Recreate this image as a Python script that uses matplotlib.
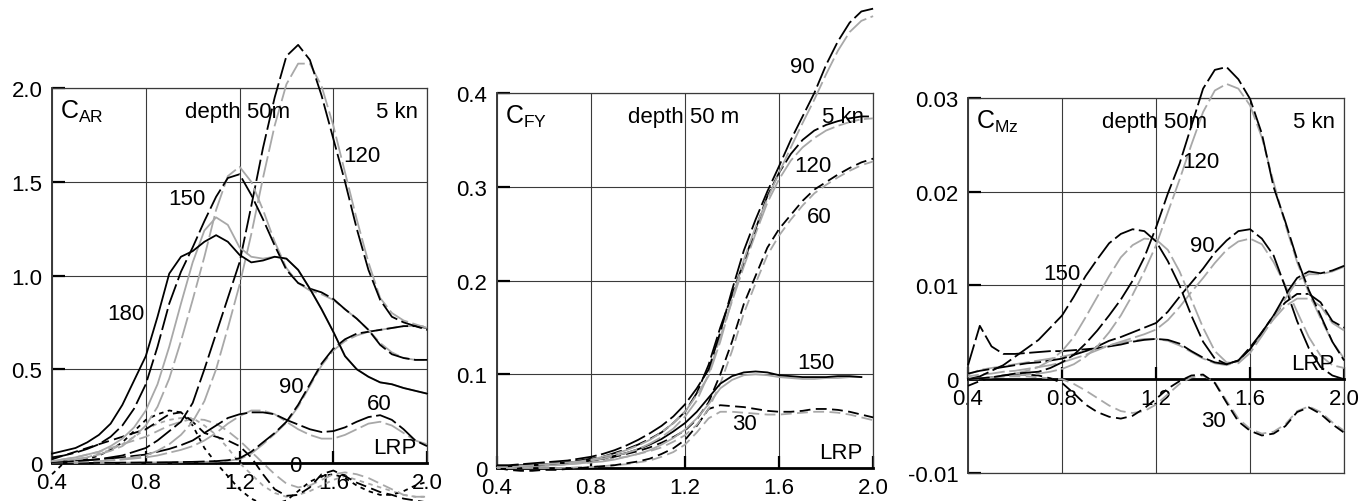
import numpy as np
import matplotlib
matplotlib.use("Agg")
import matplotlib.pyplot as plt

plt.rcParams['font.family'] = ['Liberation Sans', 'DejaVu Sans']
plt.rcParams['mathtext.fontset'] = 'custom'
plt.rcParams['mathtext.rm'] = 'Liberation Sans'

# frequency axis (common sampling for every curve)
X = [0.40, 0.45, 0.50, 0.55, 0.60, 0.65, 0.70, 0.75, 0.80, 0.85, 0.90, 0.95,
     1.00, 1.05, 1.10, 1.15, 1.20, 1.25, 1.30, 1.35, 1.40, 1.45, 1.50, 1.55,
     1.60, 1.65, 1.70, 1.75, 1.80, 1.85, 1.90, 1.95, 2.00]
x_ticks = [0.4, 0.8, 1.2, 1.6, 2.0]
x_ticklabels = ["0.4", "0.8", "1.2", "1.6", "2.0"]
nan = np.nan

# ---------------- C_AR ----------------
ar_180_b = [0.05, 0.065, 0.08, 0.11, 0.15, 0.21, 0.31, 0.44, 0.57, 0.78, 1.01, 1.10,
            1.13, 1.18, 1.215, 1.18, 1.11, 1.07, 1.08, 1.10, 1.09, 1.03, 0.93, 0.82,
            0.70, 0.57, 0.50, 0.46, 0.43, 0.42, 0.40, 0.385, 0.37]
ar_180_g = [0.01, 0.02, 0.03, 0.045, 0.06, 0.09, 0.13, 0.19, 0.28, 0.42, 0.62, 0.85,
            1.07, 1.24, 1.31, 1.27, 1.15, 1.10, 1.09, 1.10, 1.09, 1.03, 0.93, 0.82,
            0.70, 0.57, 0.50, 0.46, 0.43, 0.42, 0.40, 0.385, 0.37]
ar_150_b = [0.03, 0.04, 0.055, 0.075, 0.10, 0.14, 0.20, 0.29, 0.42, 0.62, 0.85, 1.02,
            1.15, 1.29, 1.42, 1.52, 1.54, 1.43, 1.30, 1.16, 1.03, 0.96, 0.93, 0.91,
            0.875, 0.82, 0.77, 0.71, 0.63, 0.58, 0.56, 0.55, 0.55]
ar_150_g = [0.01, 0.015, 0.02, 0.03, 0.045, 0.065, 0.09, 0.14, 0.20, 0.30, 0.45, 0.65,
            0.87, 1.10, 1.35, 1.53, 1.58, 1.50, 1.35, 1.18, 1.04, 0.96, 0.92, 0.90,
            0.87, 0.82, 0.77, 0.71, 0.64, 0.59, 0.56, 0.55, 0.55]
ar_120_b = [0.005, 0.007, 0.01, 0.015, 0.02, 0.03, 0.04, 0.06, 0.08, 0.12, 0.17, 0.22,
            0.32, 0.50, 0.69, 0.88, 1.07, 1.37, 1.68, 1.95, 2.17, 2.23, 2.15, 1.96,
            1.73, 1.50, 1.25, 1.03, 0.87, 0.78, 0.75, 0.73, 0.71]
ar_120_g = [0.003, 0.004, 0.006, 0.008, 0.01, 0.015, 0.022, 0.03, 0.04, 0.065, 0.10, 0.15,
            0.22, 0.33, 0.50, 0.72, 0.95, 1.22, 1.52, 1.80, 2.02, 2.13, 2.13, 2.01,
            1.80, 1.55, 1.30, 1.07, 0.88, 0.80, 0.76, 0.74, 0.72]
ar_90_b = [0.0, 0.0, 0.0, 0.0, 0.001, 0.001, 0.002, 0.002, 0.003, 0.003, 0.004, 0.005,
           0.006, 0.008, 0.010, 0.015, 0.025, 0.06, 0.11, 0.16, 0.22, 0.31, 0.42, 0.53,
           0.61, 0.66, 0.69, 0.70, 0.71, 0.72, 0.73, 0.73, 0.72]
ar_90_g = [0.0, 0.0, 0.0, 0.0, 0.0, 0.001, 0.001, 0.002, 0.002, 0.003, 0.003, 0.004,
           0.005, 0.006, 0.008, 0.012, 0.02, 0.05, 0.10, 0.155, 0.215, 0.30, 0.41, 0.52,
           0.60, 0.65, 0.68, 0.70, 0.71, 0.72, 0.73, 0.73, 0.73]
ar_60_b = [0.005, 0.007, 0.01, 0.015, 0.02, 0.025, 0.03, 0.038, 0.045, 0.06, 0.075, 0.095,
           0.12, 0.16, 0.20, 0.24, 0.26, 0.27, 0.27, 0.26, 0.23, 0.205, 0.18, 0.165,
           0.17, 0.19, 0.22, 0.245, 0.255, 0.23, 0.18, 0.12, 0.09]
ar_60_g = [0.002, 0.003, 0.005, 0.007, 0.01, 0.014, 0.018, 0.024, 0.03, 0.04, 0.055, 0.07,
           0.09, 0.12, 0.16, 0.21, 0.25, 0.28, 0.28, 0.26, 0.22, 0.18, 0.15, 0.13,
           0.13, 0.15, 0.18, 0.21, 0.22, 0.20, 0.16, 0.12, 0.10]
ar_30_b = [0.02, 0.04, 0.06, 0.08, 0.10, 0.12, 0.14, 0.16, 0.18, 0.22, 0.26, 0.27,
           0.22, 0.16, 0.14, 0.12, 0.09, 0.03, -0.06, -0.14, -0.175, -0.17, -0.13, -0.06,
           -0.04, -0.07, -0.105, -0.13, -0.155, -0.17, -0.19, -0.20, -0.21]
ar_30_g = [0.01, 0.02, 0.03, 0.045, 0.06, 0.08, 0.10, 0.12, 0.14, 0.17, 0.20, 0.22,
           0.235, 0.23, 0.21, 0.17, 0.12, 0.06, 0.0, -0.06, -0.11, -0.13, -0.12, -0.09,
           -0.06, -0.05, -0.06, -0.08, -0.11, -0.14, -0.17, -0.18, -0.18]
ar_0_b = [-0.06, 0.0, 0.01, 0.02, 0.04, 0.07, 0.11, 0.17, 0.23, 0.26, 0.28, 0.27,
          0.20, 0.08, 0.0, -0.07, -0.14, -0.19, -0.22, -0.22, -0.20, -0.15, -0.10, -0.07,
          -0.06, -0.08, -0.12, -0.15, -0.17, -0.17, -0.15, -0.12, -0.10]
ar_0_g = [0.0, 0.01, 0.02, 0.03, 0.05, 0.07, 0.10, 0.14, 0.18, 0.21, 0.23, 0.24,
          0.24, 0.20, 0.15, 0.08, 0.0, -0.06, -0.12, -0.16, -0.18, -0.17, -0.15, -0.12,
          -0.09, -0.07, -0.09, -0.11, -0.13, -0.15, -0.17, -0.18, -0.18]

# ---------------- C_FY ----------------
fy_90_b = [0.003, 0.003, 0.004, 0.005, 0.006, 0.007, 0.008, 0.010, 0.012, 0.015, 0.019, 0.024,
           0.030, 0.037, 0.045, 0.055, 0.068, 0.085, 0.105, 0.145, 0.19, 0.232, 0.265, 0.295,
           0.322, 0.35, 0.375, 0.40, 0.43, 0.455, 0.475, 0.487, 0.49]
fy_90_g = [0.001, 0.001, 0.002, 0.003, 0.004, 0.005, 0.006, 0.007, 0.009, 0.012, 0.015, 0.019,
           0.024, 0.030, 0.038, 0.048, 0.060, 0.078, 0.098, 0.135, 0.18, 0.222, 0.257, 0.287,
           0.315, 0.342, 0.368, 0.393, 0.42, 0.445, 0.465, 0.477, 0.482]
fy_120_b = [0.002, 0.002, 0.003, 0.003, 0.004, 0.005, 0.006, 0.008, 0.010, 0.012, 0.016, 0.020,
            0.025, 0.031, 0.038, 0.048, 0.060, 0.080, 0.11, 0.15, 0.185, 0.22, 0.255, 0.29,
            0.315, 0.335, 0.35, 0.36, 0.366, 0.37, 0.373, 0.375, 0.375]
fy_120_g = [0.001, 0.001, 0.002, 0.002, 0.003, 0.004, 0.005, 0.006, 0.008, 0.010, 0.013, 0.016,
            0.020, 0.026, 0.033, 0.042, 0.055, 0.072, 0.10, 0.14, 0.178, 0.215, 0.25, 0.283,
            0.308, 0.328, 0.342, 0.352, 0.36, 0.365, 0.369, 0.372, 0.373]
fy_60_b = [0.001, 0.001, 0.002, 0.002, 0.003, 0.004, 0.005, 0.006, 0.008, 0.010, 0.012, 0.015,
           0.018, 0.022, 0.027, 0.033, 0.040, 0.052, 0.07, 0.10, 0.135, 0.175, 0.205, 0.235,
           0.255, 0.27, 0.285, 0.297, 0.305, 0.313, 0.32, 0.326, 0.33]
fy_60_g = [0.0, 0.0, 0.001, 0.001, 0.002, 0.003, 0.004, 0.005, 0.006, 0.008, 0.010, 0.012,
           0.015, 0.018, 0.022, 0.028, 0.035, 0.046, 0.063, 0.09, 0.125, 0.165, 0.197, 0.227,
           0.248, 0.265, 0.28, 0.293, 0.302, 0.31, 0.317, 0.323, 0.327]
fy_150_b = [0.002, 0.002, 0.003, 0.003, 0.004, 0.005, 0.006, 0.007, 0.008, 0.010, 0.013, 0.016,
            0.020, 0.025, 0.031, 0.039, 0.048, 0.06, 0.075, 0.09, 0.098, 0.102, 0.103, 0.102,
            0.099, 0.098, 0.097, 0.097, 0.097, 0.098, 0.098, 0.097, nan]
fy_150_g = [0.001, 0.001, 0.002, 0.002, 0.003, 0.003, 0.004, 0.005, 0.006, 0.007, 0.009, 0.012,
            0.015, 0.019, 0.025, 0.032, 0.041, 0.053, 0.068, 0.085, 0.094, 0.099, 0.100, 0.099,
            0.097, 0.096, 0.095, 0.095, 0.096, 0.096, 0.097, 0.097, nan]
fy_30_b = [0.0, -0.002, -0.003, -0.003, -0.002, -0.002, -0.001, 0.0, 0.001, 0.002, 0.003, 0.005,
           0.007, 0.010, 0.015, 0.021, 0.030, 0.045, 0.063, 0.067, 0.066, 0.065, 0.063, 0.061,
           0.060, 0.060, 0.061, 0.063, 0.063, 0.062, 0.060, 0.057, 0.054]
fy_30_g = [0.0, 0.0, 0.0, 0.0, 0.0, 0.0, 0.0, 0.001, 0.001, 0.002, 0.003, 0.004,
           0.006, 0.008, 0.012, 0.017, 0.025, 0.038, 0.053, 0.06, 0.06, 0.059, 0.058, 0.057,
           0.057, 0.058, 0.059, 0.06, 0.06, 0.059, 0.057, 0.054, 0.051]

# ---------------- C_Mz ----------------
mz_120_b = [0.0, 0.0001, 0.0002, 0.0004, 0.0006, 0.0007, 0.0008, 0.0012, 0.0018, 0.0026, 0.0038, 0.0052,
            0.0068, 0.0085, 0.0105, 0.013, 0.0162, 0.0198, 0.023, 0.027, 0.031, 0.0330, 0.0333, 0.032,
            0.0299, 0.0262, 0.0205, 0.0168, 0.0128, 0.0095, 0.0068, 0.0040, 0.0020]
mz_120_g = [0.0, 0.0001, 0.0002, 0.0003, 0.0004, 0.0005, 0.0006, 0.0008, 0.0011, 0.0016, 0.0024, 0.0035,
            0.0050, 0.0068, 0.0090, 0.0115, 0.0143, 0.0178, 0.0213, 0.0250, 0.0285, 0.0308, 0.0315, 0.0310,
            0.0292, 0.0258, 0.0210, 0.0165, 0.0125, 0.0092, 0.0065, 0.0040, 0.0022]
mz_150_b = [0.0, 0.0003, 0.0009, 0.0015, 0.0024, 0.0033, 0.0042, 0.0055, 0.0068, 0.0088, 0.011, 0.0128,
            0.0145, 0.0155, 0.016, 0.0158, 0.0147, 0.0126, 0.0100, 0.0068, 0.0040, 0.0022, 0.0016, 0.0020,
            0.0032, 0.0050, 0.0068, 0.0090, 0.0108, 0.0115, 0.0113, 0.0116, 0.0121]
mz_150_g = [0.0, 0.0001, 0.0002, 0.0004, 0.0006, 0.0009, 0.0013, 0.0020, 0.0030, 0.0045, 0.0066, 0.0088,
            0.011, 0.013, 0.0143, 0.0150, 0.0149, 0.0138, 0.0115, 0.0085, 0.0055, 0.0030, 0.0018, 0.0017,
            0.0028, 0.0046, 0.0065, 0.0086, 0.0105, 0.0112, 0.0112, 0.0115, 0.0120]
mz_90_b = [0.0006, 0.0009, 0.0011, 0.0013, 0.0015, 0.0017, 0.0018, 0.0020, 0.0022, 0.0026, 0.0030, 0.0035,
           0.0041, 0.0045, 0.005, 0.0055, 0.006, 0.0072, 0.0088, 0.0103, 0.0118, 0.0135, 0.0148, 0.0158,
           0.016, 0.0150, 0.0132, 0.0098, 0.0062, 0.0033, 0.0013, 0.0004, 0.0]
mz_90_g = [0.0003, 0.0005, 0.0006, 0.0008, 0.0009, 0.0011, 0.0013, 0.0015, 0.0018, 0.0022, 0.0026, 0.0031,
           0.0036, 0.0040, 0.0044, 0.0048, 0.0053, 0.0063, 0.0077, 0.0093, 0.0108, 0.0124, 0.0138, 0.0147,
           0.0150, 0.0144, 0.0125, 0.0100, 0.0072, 0.0045, 0.0025, 0.0015, 0.0012]
mz_60_b = [0.0015, 0.0057, 0.0035, 0.0027, 0.0027, 0.0028, 0.0029, 0.003, 0.003, 0.0031, 0.0032, 0.0033,
           0.0035, 0.0037, 0.004, 0.0042, 0.0043, 0.0042, 0.0038, 0.003, 0.0023, 0.0018, 0.0016, 0.002,
           0.0034, 0.005, 0.0068, 0.0082, 0.0091, 0.0091, 0.0082, 0.0062, 0.0055]
mz_60_g = [0.0005, 0.001, 0.0012, 0.0014, 0.0016, 0.0018, 0.002, 0.0022, 0.0024, 0.0027, 0.003, 0.0033,
           0.0036, 0.0039, 0.0041, 0.0043, 0.0043, 0.0041, 0.0036, 0.0029, 0.0022, 0.0017, 0.0015, 0.0019,
           0.0032, 0.0048, 0.0064, 0.0078, 0.0086, 0.0086, 0.0078, 0.006, 0.0052]
mz_30_b = [-0.0007, -0.0002, 0.0002, 0.0004, 0.0005, 0.0005, 0.0004, 0.0001, -0.0004, -0.0015, -0.0027, -0.0035,
           -0.004, -0.0042, -0.0039, -0.0031, -0.0021, -0.0010, -0.0002, 0.0004, 0.0005, -0.0004, -0.0025, -0.0045,
           -0.0055, -0.0060, -0.0058, -0.0050, -0.0035, -0.0030, -0.0037, -0.0048, -0.0057]
mz_30_g = [0.0, 0.0001, 0.0002, 0.0003, 0.0003, 0.0003, 0.0002, 0.0001, 0.0, -0.0005, -0.0012, -0.0020,
           -0.0028, -0.0034, -0.0036, -0.0034, -0.0027, -0.0016, -0.0005, 0.0002, 0.0004, -0.0003, -0.0023, -0.0042,
           -0.0053, -0.0058, -0.0056, -0.0048, -0.0034, -0.0029, -0.0035, -0.0046, -0.0055]

BLACK = "#000000"
GRAY = "#a8a8a8"
SOLID = "-"
LONG = (0, (12, 2.5))
LONG_G = (6, (12, 2.5))
MED = (0, (6, 3))
MED_G = (4, (6, 3))
SHORT = (0, (2.5, 2.5))

panels = [
    dict(pos=[0.038, 0.0757, 0.2737, 0.747], ylim=(0, 2.0),
         yticks=[0, 0.5, 1.0, 1.5, 2.0], ylabels=["0", "0.5", "1.0", "1.5", "2.0"],
         name=r"$\mathregular{C_{AR}}$", depth="depth 50m",
         curves=[(ar_0_g, GRAY, SHORT), (ar_0_b, BLACK, SHORT),
                 (ar_30_g, GRAY, MED_G), (ar_30_b, BLACK, MED),
                 (ar_60_g, GRAY, LONG_G), (ar_60_b, BLACK, LONG),
                 (ar_90_g, GRAY, LONG_G), (ar_90_b, BLACK, LONG),
                 (ar_120_g, GRAY, LONG_G), (ar_120_b, BLACK, LONG),
                 (ar_150_g, GRAY, LONG_G), (ar_150_b, BLACK, LONG),
                 (ar_180_g, GRAY, SOLID), (ar_180_b, BLACK, SOLID)],
         labels=[("180", 0.715, 0.795), ("150", 0.975, 1.41), ("120", 1.72, 1.64),
                 ("90", 1.42, 0.41), ("60", 1.795, 0.315), ("0", 1.437, -0.014)],
         lrp_y=0.085),
    dict(pos=[0.3628, 0.0657, 0.2745, 0.747], ylim=(0, 0.4),
         yticks=[0, 0.1, 0.2, 0.3, 0.4], ylabels=["0", "0.1", "0.2", "0.3", "0.4"],
         name=r"$\mathregular{C_{FY}}$", depth="depth 50 m",
         curves=[(fy_30_g, GRAY, MED_G), (fy_30_b, BLACK, MED),
                 (fy_60_g, GRAY, MED_G), (fy_60_b, BLACK, MED),
                 (fy_150_g, GRAY, SOLID), (fy_150_b, BLACK, SOLID),
                 (fy_120_g, GRAY, LONG_G), (fy_120_b, BLACK, LONG),
                 (fy_90_g, GRAY, LONG_G), (fy_90_b, BLACK, LONG)],
         labels=[("90", 1.70, 0.428), ("120", 1.744, 0.323), ("60", 1.772, 0.268),
                 ("150", 1.758, 0.113), ("30", 1.452, 0.047)],
         lrp_y=0.017),
    dict(pos=[0.7066, 0.0558, 0.2745, 0.747], ylim=(-0.01, 0.03),
         yticks=[-0.01, 0, 0.01, 0.02, 0.03], ylabels=["-0.01", "0", "0.01", "0.02", "0.03"],
         name=r"$\mathregular{C_{Mz}}$", depth="depth 50m",
         curves=[(mz_30_g, GRAY, MED_G), (mz_30_b, BLACK, MED),
                 (mz_60_g, GRAY, LONG_G), (mz_60_b, BLACK, LONG),
                 (mz_90_g, GRAY, LONG_G), (mz_90_b, BLACK, LONG),
                 (mz_150_g, GRAY, LONG_G), (mz_150_b, BLACK, LONG),
                 (mz_120_g, GRAY, LONG_G), (mz_120_b, BLACK, LONG)],
         labels=[("120", 1.389, 0.0232), ("90", 1.396, 0.0143), ("150", 0.798, 0.0113),
                 ("30", 1.445, -0.0044)],
         lrp_y=0.0017),
]

fig = plt.figure(figsize=(13.7, 5.02), dpi=100)
FS = 16

for p in panels:
    ax = fig.add_axes(p["pos"])
    ax.set_xlim(0.4, 2.0)
    ax.set_ylim(*p["ylim"])
    ax.set_xticks(x_ticks)
    ax.set_xticklabels(x_ticklabels)
    ax.set_yticks(p["yticks"])
    ax.set_yticklabels(p["ylabels"])
    ax.grid(True, color="#3a3a3a", lw=0.8)
    ax.set_axisbelow(True)
    ax.tick_params(direction="in", length=9, width=1.6, labelsize=FS, colors="black")
    ax.tick_params(axis="x", pad=6.5)
    ax.tick_params(axis="y", pad=7)
    for s in ["top", "right", "left"]:
        ax.spines[s].set_color("#3a3a3a")
        ax.spines[s].set_linewidth(0.9)
    ax.spines["left"].set_linewidth(1.4)
    if p["ylim"][0] < 0:
        # frame line at the bottom, x axis drawn through zero
        ax.axhline(p["ylim"][0], color="#3a3a3a", lw=0.9, clip_on=False)
    ax.spines["bottom"].set_position(("data", 0))
    ax.spines["bottom"].set_linewidth(2.0)

    for ys, col, ls in p["curves"]:
        ax.plot(X, ys, color=col, ls=ls, lw=1.3, clip_on=False, zorder=3,
                solid_joinstyle="round", dash_joinstyle="round")

    ax.text(0.022, 0.975, p["name"], transform=ax.transAxes, fontsize=18,
            ha="left", va="top", zorder=5)
    ax.text(0.495, 0.965, p["depth"], transform=ax.transAxes, fontsize=FS,
            ha="center", va="top", zorder=5)
    ax.text(0.975, 0.965, "5 kn", transform=ax.transAxes, fontsize=FS,
            ha="right", va="top", zorder=5)
    ax.text(1.957, p["lrp_y"], "LRP", fontsize=FS, ha="right", va="center", zorder=5)
    for txt, lx, ly in p["labels"]:
        ax.text(lx, ly, txt, fontsize=FS, ha="center", va="center", zorder=5)

fig.savefig("out.png", dpi=100)
